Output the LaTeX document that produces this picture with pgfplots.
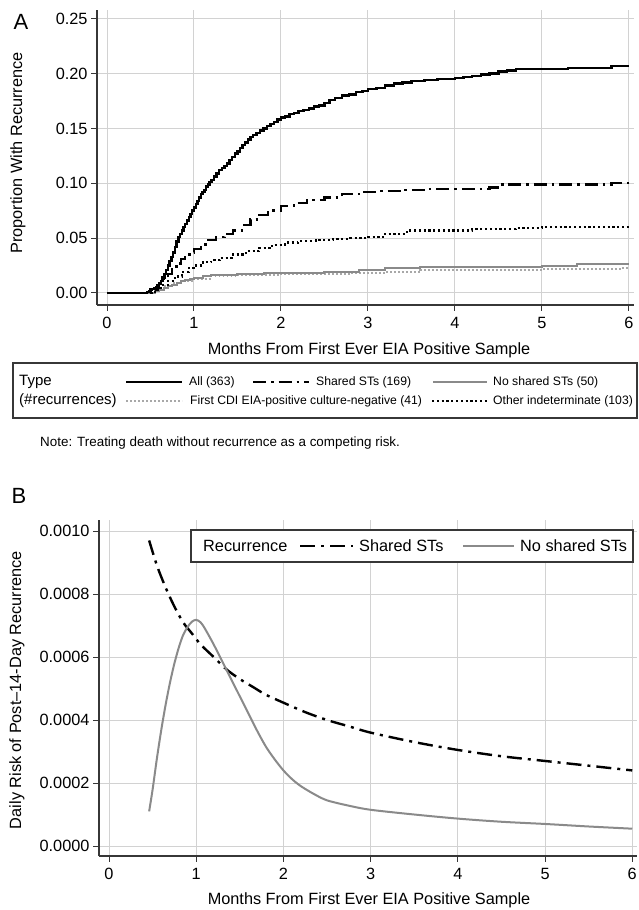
\documentclass[border=0pt]{standalone}
\usepackage{fontspec}
\setmainfont{Liberation Sans}
\usepackage{pgfplots}
\pgfplotsset{compat=1.18}

\definecolor{gridgray}{RGB}{210,210,210}
\definecolor{nsgray}{RGB}{138,138,138}
\definecolor{cdigray}{RGB}{168,168,168}
\definecolor{axisdark}{RGB}{55,55,55}

\tikzset{
  allst/.style={black, line width=2.4bp},
  sharedst/.style={black, line width=2.4bp, dash pattern=on 13bp off 5bp on 2.5bp off 5bp},
  otherst/.style={black, line width=2.2bp, dash pattern=on 2.2bp off 2.6bp},
  nsst/.style={nsgray, line width=2bp},
  cdist/.style={cdigray, line width=2bp, dash pattern=on 1.8bp off 2.2bp},
  sharedb/.style={black, line width=2.4bp, dash pattern=on 15bp off 6bp on 3bp off 6bp},
}

\pgfplotsset{
  panel/.style={
    scale only axis,
    axis x line*=bottom, axis y line*=left,
    axis line style={axisdark, line width=1.3bp, -},
    grid=major, major grid style={gridgray, line width=1bp},
    tick style={axisdark, line width=1bp},
    major tick length=6bp, tick align=outside,
    xtick={0,1,2,3,4,5,6},
    tick label style={font=\fontsize{16.3bp}{19bp}\selectfont},
    xticklabel style={yshift=-3bp},
    /pgf/number format/assume math mode=true,
    scaled y ticks=false,
  }
}

\begin{document}
\begin{tikzpicture}
\useasboundingbox (0,0) rectangle (639bp,910bp);

% ---------- panel A ----------
\begin{axis}[panel,
  at={(97bp,605bp)}, anchor=south west,
  width=537bp, height=295bp,
  xmin=-0.115, xmax=6.06, ymin=-0.011, ymax=0.258,
  ytick={0,0.05,0.10,0.15,0.20,0.25},
  yticklabel style={/pgf/number format/fixed, /pgf/number format/fixed zerofill,
    /pgf/number format/precision=2},
]
% First CDI EIA-positive culture-negative
\addplot[cdist, const plot] coordinates {
  (0,0) (0.48,0) (0.55,0.003) (0.65,0.006) (0.75,0.009) (0.85,0.011)
  (1.00,0.013) (1.20,0.015) (1.50,0.016) (2.00,0.017) (2.40,0.017)
  (2.80,0.018) (3.20,0.019) (3.60,0.021) (4.50,0.021) (5.00,0.022)
  (5.80,0.022) (5.90,0.023) (6.00,0.023)
};
% No shared STs
\addplot[nsst, const plot] coordinates {
  (0,0) (0.50,0) (0.55,0.0015) (0.60,0.003) (0.65,0.0045) (0.70,0.006)
  (0.75,0.0075) (0.80,0.009) (0.85,0.0105) (0.90,0.012) (0.95,0.013)
  (1.00,0.014) (1.10,0.015) (1.20,0.016) (1.50,0.017) (1.80,0.018)
  (2.20,0.018) (2.50,0.019) (2.90,0.021) (3.20,0.023) (3.60,0.024)
  (4.00,0.024) (5.00,0.025) (5.40,0.026) (6.00,0.026)
};
% Other indeterminate
\addplot[otherst, const plot] coordinates {
  (0,0) (0.48,0) (0.55,0.003) (0.62,0.007) (0.70,0.011) (0.78,0.015)
  (0.86,0.019) (0.94,0.023) (1.00,0.025) (1.10,0.028) (1.20,0.030)
  (1.30,0.032) (1.45,0.035) (1.60,0.038) (1.75,0.041) (1.90,0.044)
  (2.05,0.046) (2.20,0.047) (2.40,0.048) (2.60,0.049) (2.80,0.050)
  (3.00,0.051) (3.20,0.054) (3.45,0.057) (3.80,0.057) (4.20,0.058)
  (4.70,0.059) (5.00,0.060) (6.00,0.060)
};
% Shared STs
\addplot[sharedst, const plot] coordinates {
  (0,0) (0.48,0) (0.52,0.002) (0.56,0.005) (0.60,0.008) (0.65,0.013)
  (0.70,0.017) (0.75,0.022) (0.80,0.027) (0.85,0.031) (0.90,0.034)
  (0.95,0.037) (1.00,0.040) (1.08,0.044) (1.16,0.048) (1.25,0.051)
  (1.35,0.054) (1.45,0.057) (1.55,0.062) (1.65,0.067) (1.75,0.071)
  (1.85,0.075) (2.00,0.079) (2.15,0.082) (2.30,0.085) (2.50,0.087)
  (2.70,0.090) (2.90,0.092) (3.10,0.093) (3.40,0.094) (3.70,0.095)
  (4.00,0.095) (4.40,0.096) (4.55,0.099) (5.00,0.099) (5.80,0.100)
  (6.00,0.100)
};
% All
\addplot[allst, const plot] coordinates {
  (0,0) (0.44,0) (0.46,0.001) (0.48,0.002) (0.50,0.003) (0.52,0.0035)
  (0.54,0.004) (0.56,0.005) (0.58,0.007) (0.60,0.009) (0.62,0.011)
  (0.64,0.014) (0.66,0.017) (0.68,0.021) (0.70,0.025) (0.72,0.029)
  (0.74,0.033) (0.76,0.037) (0.78,0.042) (0.80,0.047) (0.82,0.051)
  (0.84,0.054) (0.86,0.057) (0.88,0.060) (0.90,0.063) (0.92,0.066)
  (0.94,0.069) (0.96,0.072) (0.98,0.075) (1.00,0.078) (1.02,0.081)
  (1.04,0.084) (1.06,0.087) (1.08,0.090) (1.10,0.092) (1.12,0.094)
  (1.14,0.097) (1.16,0.099) (1.18,0.101) (1.20,0.103) (1.23,0.106)
  (1.26,0.109) (1.29,0.112) (1.32,0.114) (1.35,0.116) (1.38,0.118)
  (1.41,0.121) (1.44,0.124) (1.47,0.127) (1.50,0.129) (1.53,0.132)
  (1.56,0.135) (1.59,0.137) (1.62,0.140) (1.65,0.142) (1.68,0.144)
  (1.72,0.146) (1.76,0.148) (1.80,0.150) (1.84,0.152) (1.88,0.154)
  (1.92,0.156) (1.96,0.158) (2.00,0.160) (2.05,0.161) (2.10,0.163)
  (2.15,0.164) (2.20,0.166) (2.26,0.167) (2.32,0.168) (2.38,0.170)
  (2.44,0.171) (2.50,0.173) (2.56,0.176) (2.62,0.178) (2.70,0.180)
  (2.78,0.181) (2.86,0.183) (2.94,0.184) (3.00,0.186) (3.10,0.187)
  (3.20,0.189) (3.30,0.191) (3.40,0.192) (3.50,0.193) (3.65,0.194)
  (3.80,0.195) (4.00,0.196) (4.10,0.197) (4.20,0.198) (4.30,0.199)
  (4.40,0.200) (4.50,0.202) (4.60,0.203) (4.70,0.204) (5.00,0.204)
  (5.30,0.205) (5.70,0.205) (5.80,0.207) (6.00,0.207)
};
\end{axis}

\node[font=\fontsize{22bp}{24bp}\selectfont] at (21bp,888bp) {A};
\node[rotate=90, font=\fontsize{16.3bp}{19bp}\selectfont] at (18bp,757bp) {Proportion With Recurrence};
\node[font=\fontsize{16.3bp}{19bp}\selectfont] at (369bp,560bp) {Months From First Ever EIA Positive Sample};

% legend A
\draw[axisdark, line width=1.3bp] (13bp,492bp) rectangle (637bp,547bp);
\begin{scope}[every node/.style={anchor=west, inner sep=0pt}]
\node[font=\fontsize{15bp}{17bp}\selectfont] at (19bp,528bp) {Type};
\node[font=\fontsize{15bp}{17bp}\selectfont] at (19bp,509bp) {(\#recurrences)};
\draw[allst] (126bp,528bp) -- (182bp,528bp);
\node[font=\fontsize{12.2bp}{14bp}\selectfont] at (189bp,528bp) {All (363)};
\draw[sharedst] (253bp,528bp) -- (309bp,528bp);
\node[font=\fontsize{12.2bp}{14bp}\selectfont] at (316bp,528bp) {Shared STs (169)};
\draw[nsst] (433bp,528bp) -- (487bp,528bp);
\node[font=\fontsize{12.2bp}{14bp}\selectfont] at (493bp,528bp) {No shared STs (50)};
\draw[cdist] (126bp,509bp) -- (182bp,509bp);
\node[font=\fontsize{12.2bp}{14bp}\selectfont] at (190bp,509bp) {First CDI EIA-positive culture-negative (41)};
\draw[otherst] (432bp,509bp) -- (488bp,509bp);
\node[font=\fontsize{12.2bp}{14bp}\selectfont] at (493bp,509bp) {Other indeterminate (103)};
\node[font=\fontsize{13.4bp}{15bp}\selectfont] at (40bp,467bp) {Note: Treating death without recurrence as a competing risk.};
\end{scope}

% ---------- panel B ----------
\begin{axis}[panel,
  at={(99bp,54bp)}, anchor=south west,
  width=537.6bp, height=336bp,
  xmin=-0.115, xmax=6.05, ymin=-0.0000317, ymax=0.001035,
  ytick={0,0.0002,0.0004,0.0006,0.0008,0.001},
  yticklabel style={/pgf/number format/fixed, /pgf/number format/fixed zerofill,
    /pgf/number format/precision=4},
]
% Shared STs
\addplot[sharedb, smooth] coordinates {
  (0.46,0.00097) (0.55,0.00089) (0.65,0.00082) (0.75,0.00076) (0.85,0.00071)
  (0.95,0.000675) (1.05,0.00064) (1.20,0.00060) (1.35,0.00056) (1.50,0.00053)
  (1.65,0.000505) (1.80,0.00048) (2.00,0.000455) (2.25,0.000425) (2.50,0.00040)
  (2.75,0.00038) (3.00,0.00036) (3.50,0.00033) (4.00,0.000305) (4.50,0.000285)
  (5.00,0.00027) (5.50,0.000255) (6.00,0.00024)
};
% No shared STs
\addplot[nsst, smooth] coordinates {
  (0.46,0.00011) (0.50,0.00018) (0.55,0.00028) (0.60,0.00037) (0.65,0.00045)
  (0.70,0.00052) (0.75,0.00058) (0.80,0.00063) (0.85,0.00067) (0.90,0.000695)
  (0.95,0.000712) (1.00,0.000718) (1.05,0.00071) (1.10,0.00069) (1.20,0.00064)
  (1.30,0.000585) (1.40,0.00053) (1.50,0.000475) (1.60,0.00042) (1.70,0.000365)
  (1.80,0.000315) (1.90,0.000275) (2.00,0.00024) (2.10,0.000212) (2.20,0.00019)
  (2.35,0.000165) (2.50,0.000145) (2.75,0.000128) (3.00,0.000115) (3.50,0.00010)
  (4.00,0.000087) (4.50,0.000077) (5.00,0.00007) (5.50,0.000062) (6.00,0.000055)
};
\end{axis}

\node[font=\fontsize{22bp}{24bp}\selectfont] at (19bp,414bp) {B};
\node[rotate=90, font=\fontsize{16.3bp}{19bp}\selectfont] at (17bp,220bp) {Daily Risk of Post–14-Day Recurrence};
\node[font=\fontsize{16.3bp}{19bp}\selectfont] at (369bp,10bp) {Months From First Ever EIA Positive Sample};

% legend B
\draw[axisdark, line width=1.3bp, fill=white] (191bp,348bp) rectangle (633bp,380bp);
\begin{scope}[every node/.style={anchor=west, inner sep=0pt, font=\fontsize{16.3bp}{19bp}\selectfont}]
\node at (203bp,364bp) {Recurrence};
\draw[sharedb] (300bp,364bp) -- (353bp,364bp);
\node at (359bp,364bp) {Shared STs};
\draw[nsst] (463bp,364bp) -- (514bp,364bp);
\node at (520bp,364bp) {No shared STs};
\end{scope}
\end{tikzpicture}
\end{document}
